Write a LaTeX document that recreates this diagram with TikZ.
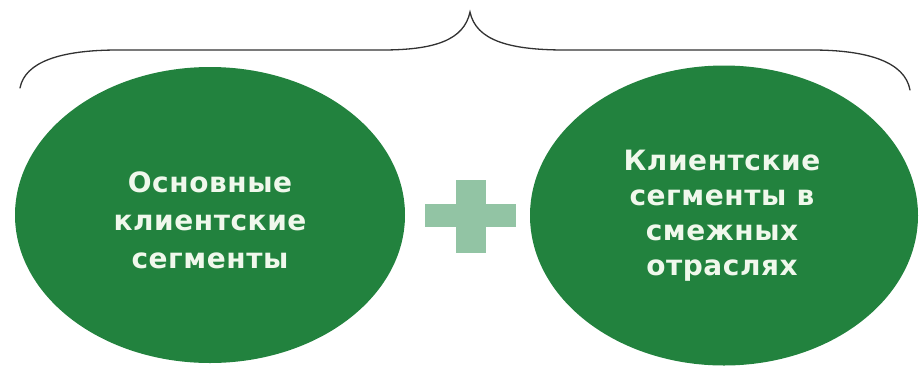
\documentclass[tikz,border=0pt]{standalone}
\usepackage{fontspec}
\newfontfamily\lblfont{DejaVu Sans}[LetterSpace=2]
\usetikzlibrary{shapes.geometric}
\definecolor{circgreen}{RGB}{34,130,62}
\definecolor{plusgreen}{RGB}{146,196,164}
\definecolor{lbltext}{RGB}{240,248,236}
\definecolor{bracegray}{RGB}{50,50,50}
\tikzset{
  blob/.style={ellipse, fill=circgreen, inner sep=0pt},
  blobtext/.style={text=lbltext, align=center, inner sep=0pt,
    font=\lblfont\bfseries\fontsize{28}{38}\selectfont},
  bracelinestyle/.style={draw=bracegray, line width=1.3pt, line cap=round}
}
\begin{document}
\begin{tikzpicture}[x=1pt,y=-1pt]
\useasboundingbox (0,0) rectangle (922,368);
% brace
\coordinate (bl) at (20,88);
\coordinate (bt) at (470,12);
\coordinate (br) at (910,90);
\draw[bracelinestyle] (bl) .. controls (25,62) and (60,50) .. (118,50) -- (382,50)
  .. controls (435,50) and (464,40) .. (bt)
  .. controls (476,40) and (508,50) .. (565,50) -- (812,50)
  .. controls (868,50) and (905,62) .. (br);
% ellipses
\node[blob, minimum width=390pt, minimum height=296pt] (left) at (210,215) {};
\node[blob, minimum width=388pt, minimum height=300pt] (right) at (724,215.5) {};
\node[blobtext] (lefttext) at (210,220) {Основные\\клиентские\\сегменты};
\node[blobtext, font=\lblfont\bfseries\fontsize{28}{35}\selectfont] (righttext) at (722,216) {Клиентские\\сегменты в\\смежных\\отраслях};
% plus
\fill[plusgreen] (425,204) rectangle (516,227);
\fill[plusgreen] (456,180) rectangle (486,253);
\end{tikzpicture}
\end{document}
